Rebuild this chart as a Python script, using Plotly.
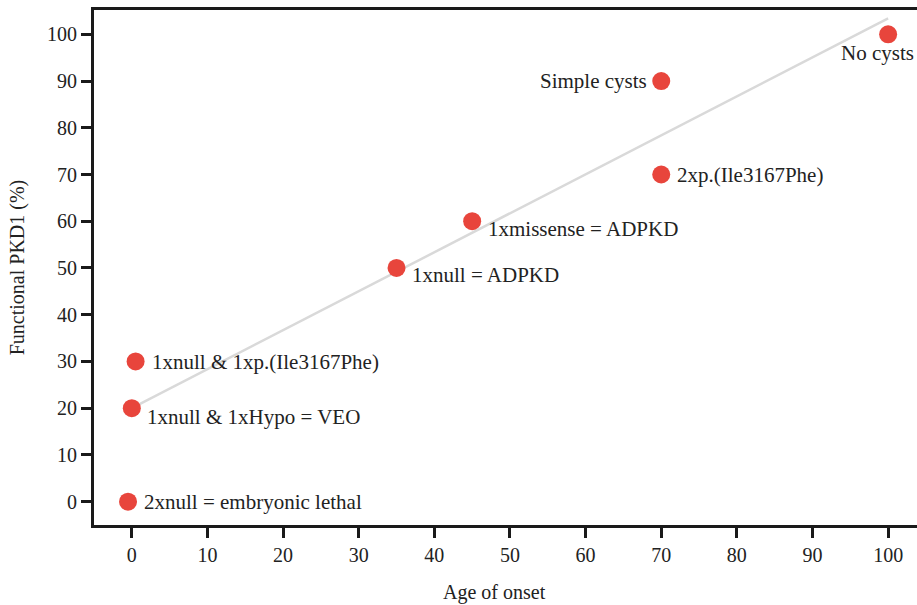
import plotly.graph_objects as go

# Data
age_onset = [100, 70, 70, 45, 35, 0.5, 0, -0.5]
functional_pkd1 = [100, 90, 70, 60, 50, 30, 20, 0]
labels = ["No cysts", "Simple cysts", "2xp.(Ile3167Phe)", "1xmissense = ADPKD",
          "1xnull = ADPKD", "1xnull & 1xp.(Ile3167Phe)", "1xnull & 1xHypo = VEO",
          "2xnull = embryonic lethal"]
trend_x = [0, 100]
trend_y = [20, 103.4]

x_ticks = list(range(0, 101, 10))
y_ticks = list(range(0, 101, 10))

# label placement (anchor, pixel offsets)
label_style = [
    ("center", "middle", -11, -19),
    ("right", "middle", -12, 0),
    ("left", "middle", 14, 0),
    ("left", "middle", 14, -8),
    ("left", "middle", 13, -7),
    ("left", "middle", 14, -1),
    ("left", "middle", 13, -9),
    ("left", "middle", 14, 0),
]

FONT = "Liberation Serif"
INK = "#222222"
FS = 20

fig = go.Figure()
fig.add_trace(go.Scatter(x=trend_x, y=trend_y, mode="lines",
                         line=dict(color="#d9d9d9", width=2.5),
                         hoverinfo="skip", showlegend=False))
fig.add_trace(go.Scatter(x=age_onset, y=functional_pkd1, mode="markers",
                         marker=dict(color="#e8453c", size=18, line=dict(width=0)),
                         showlegend=False))

for xv, yv, txt, (xa, ya, dx, dy) in zip(age_onset, functional_pkd1, labels, label_style):
    fig.add_annotation(x=xv, y=yv, text=txt, showarrow=False,
                       xanchor=xa, yanchor=ya, xshift=dx, yshift=dy,
                       font=dict(family=FONT, size=21, color=INK))

# x-axis title (centred on the visible part of the axis)
fig.add_annotation(x=48, y=0, xref="x", yref="paper", text="Age of onset",
                   showarrow=False, xanchor="center", yanchor="middle", yshift=-67,
                   font=dict(family=FONT, size=FS, color=INK))

fig.update_layout(
    width=932, height=605,
    margin=dict(l=94, r=0, t=10, b=80),
    plot_bgcolor="white", paper_bgcolor="white",
    font=dict(family=FONT, size=FS, color=INK),
)
fig.update_xaxes(range=[-5, 105.8], tickvals=x_ticks, showgrid=False, zeroline=False,
                 showline=True, linewidth=3, linecolor="#1a1a1a", mirror=True,
                 ticks="outside", ticklen=10, tickwidth=3, tickcolor="#1a1a1a")
fig.update_yaxes(range=[-5, 105.2], tickvals=y_ticks, showgrid=False, zeroline=False,
                 showline=True, linewidth=3, linecolor="#1a1a1a", mirror=False,
                 ticks="outside", ticklen=10, tickwidth=3, tickcolor="#1a1a1a",
                 title=dict(text="Functional PKD1 (%)", font=dict(family=FONT, size=FS), standoff=18))

fig.write_html("out.html", config={"displayModeBar": False},
               post_script="document.body.style.margin='0';document.body.style.overflow='hidden';")
